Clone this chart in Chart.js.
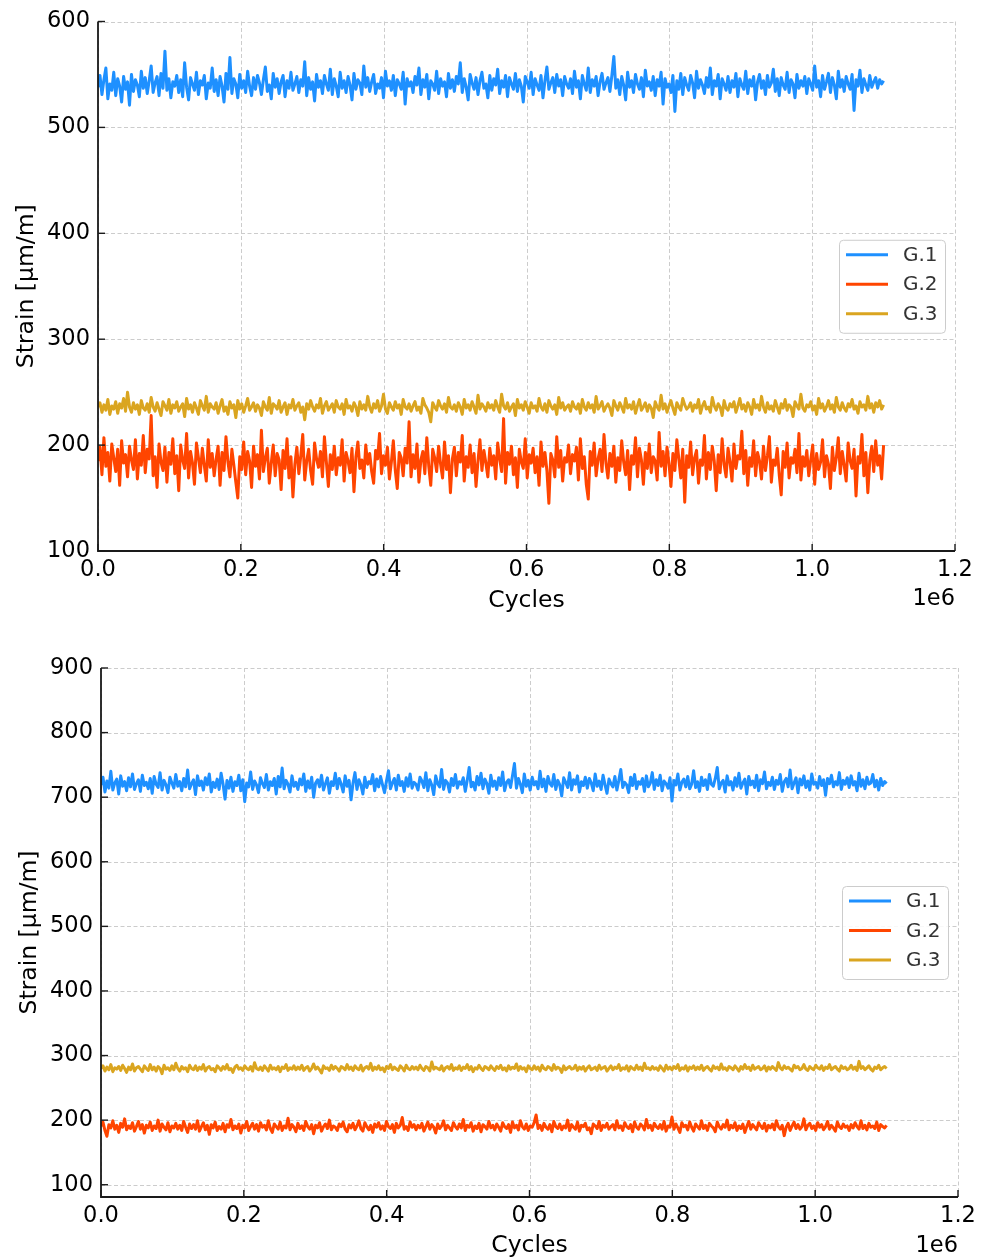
<!DOCTYPE html>
<html>
<head>
<meta charset="utf-8">
<script src="https://cdn.jsdelivr.net/npm/chart.js@4.4.1/dist/chart.umd.min.js"></script>
<style>
  body { margin: 0; background: #fff; overflow: hidden; }
  canvas { position: absolute; left: 0; }
  #topChart { top: 0; }
  #bottomChart { top: 630px; }
</style>
</head>
<body>
<canvas id="topChart" width="989" height="630"></canvas>
<canvas id="bottomChart" width="989" height="630"></canvas>
<script>
// gauges and colours
const seriesLabels = ['G.1', 'G.2', 'G.3'];
const seriesColors = ['#1E90FF', '#FF4500', '#DAA520'];

// cycle axis
const lastCycle = 1100000;
const cycleTicks = [0, 200000, 400000, 600000, 800000, 1000000, 1200000];
const topStrainTicks = [100, 200, 300, 400, 500, 600];
const bottomStrainTicks = [100, 200, 300, 400, 500, 600, 700, 800, 900];

// first test: strain readings, evenly sampled over 0 .. lastCycle
const topG1 = [
  538, 549, 531, 545, 556, 527, 541, 535, 552, 530, 546, 539, 524, 548, 536, 543, 521, 550, 534, 545,
  540, 529, 553, 537, 547, 532, 544, 558, 533, 542, 548, 530, 551, 537, 572, 535, 546, 528, 543, 539,
  549, 533, 545, 529, 561, 538, 526, 547, 541, 535, 552, 531, 544, 540, 549, 527, 542, 537, 556, 534,
  545, 530, 548, 539, 524, 551, 536, 566, 532, 546, 541, 528, 550, 537, 544, 533, 553, 539, 530, 547,
  536, 549, 542, 531, 545, 557, 534, 540, 527, 551, 538, 546, 532, 543, 549, 529, 544, 537, 552, 535,
  541, 548, 533, 545, 539, 562, 530, 547, 536, 543, 525, 550, 538, 544, 532, 549, 541, 535, 555, 531,
  546, 539, 529, 552, 537, 544, 533, 548, 540, 526, 551, 536, 545, 542, 531, 558, 538, 547, 534, 543,
  550, 532, 541, 537, 547, 528, 553, 539, 544, 535, 549, 530, 545, 541, 536, 552, 522, 546, 539, 543,
  533, 548, 540, 556, 531, 545, 538, 550, 527, 544, 541, 535, 553, 532, 546, 539, 543, 529, 551, 537,
  545, 534, 548, 541, 561, 533, 546, 538, 526, 550, 542, 536, 547, 531, 544, 552, 537, 541, 528, 549,
  535, 546, 540, 555, 532, 544, 538, 549, 529, 547, 541, 536, 551, 534, 545, 539, 524, 548, 543, 537,
  552, 531, 546, 540, 535, 549, 528, 544, 557, 536, 542, 547, 533, 550, 539, 545, 530, 548, 541, 537,
  546, 532, 553, 538, 544, 527, 549, 541, 535, 556, 533, 545, 539, 548, 530, 543, 551, 536, 542, 547,
  534, 549, 567, 537, 545, 531, 548, 540, 526, 552, 538, 544, 533, 550, 541, 536, 547, 529, 554, 539,
  543, 535, 548, 530, 545, 539, 552, 522, 546, 538, 541, 533, 549, 515, 544, 536, 551, 531, 547, 540,
  535, 549, 542, 528, 553, 537, 545, 540, 532, 547, 538, 556, 531, 544, 539, 550, 527, 546, 541, 535,
  548, 533, 544, 538, 551, 529, 546, 540, 536, 553, 532, 545, 539, 548, 526, 543, 550, 537, 544, 531,
  549, 538, 542, 555, 534, 546, 530, 547, 540, 536, 552, 533, 545, 541, 528, 550, 537, 544, 539, 548,
  532, 546, 541, 535, 558, 538, 544, 529, 549, 536, 543, 551, 533, 547, 540, 527, 553, 538, 545, 534,
  548, 541, 536, 550, 516, 545, 539, 554, 533, 546, 540, 535, 549, 538, 543, 547, 537, 545, 541, 544
];
const topG2 = [
  185, 198, 172, 207, 180, 193, 166, 201, 188, 175, 196, 162, 204, 183, 191, 170, 199, 186, 177, 205,
  168, 192, 181, 209, 174, 196, 187, 228, 171, 189, 160, 201, 184, 176, 198, 165, 193, 182, 206, 173,
  190, 157, 200, 186, 178, 211, 169, 194, 183, 163, 202, 188, 174, 197, 181, 166, 205, 179, 192, 171,
  187, 199, 162, 193, 176, 208, 184, 170, 196, 181, 165, 150, 189, 177, 203, 172, 194, 185, 160, 199,
  180, 191, 168, 214, 175, 188, 197, 164, 183, 200, 171, 192, 186, 158, 195, 178, 206, 169, 189, 151,
  182, 198, 173, 190, 210, 167, 185, 196, 176, 163, 202, 187, 179, 194, 170, 208, 184, 161, 191, 177,
  199, 172, 188, 181, 205, 166, 193, 185, 174, 197, 156, 189, 203, 178, 186, 169, 200, 182, 192, 175,
  164, 195, 187, 211, 173, 190, 181, 198, 168, 184, 204, 176, 159, 193, 188, 171, 197, 183, 222, 170,
  191, 178, 201, 165, 186, 194, 173, 207, 180, 162, 196, 188, 175, 199, 182, 169, 203, 177, 190, 155,
  187, 198, 171, 193, 184, 209, 166, 189, 179, 200, 174, 192, 161, 185, 205, 176, 195, 183, 170, 197,
  181, 190, 168, 202, 187, 175, 225, 164, 193, 182, 199, 172, 188, 160, 196, 184, 178, 206, 169, 191,
  183, 197, 174, 189, 162, 203, 180, 193, 176, 145, 192, 186, 170, 208, 179, 195, 166, 188, 184, 200,
  173, 191, 185, 198, 167, 206, 178, 189, 163, 149, 194, 181, 202, 171, 187, 196, 175, 210, 183, 169,
  192, 180, 199, 165, 188, 176, 204, 184, 172, 195, 158, 190, 182, 207, 170, 197, 186, 163, 193, 178,
  201, 174, 189, 185, 167, 212, 180, 194, 171, 198, 183, 161, 192, 176, 205, 187, 169, 196, 146, 190,
  179, 203, 172, 188, 195, 164, 186, 181, 209, 168, 193, 177, 199, 185, 157, 191, 174, 206, 182, 170,
  197, 184, 166, 201, 178, 190, 187, 213, 173, 195, 162, 188, 180, 204, 171, 193, 185, 168, 199, 176,
  190, 208, 165, 186, 181, 197, 172, 153, 194, 179, 202, 169, 188, 183, 196, 174, 211, 167, 189, 180,
  195, 171, 186, 200, 163, 192, 177, 184, 205, 170, 190, 182, 159, 198, 176, 188, 207, 173, 194, 181,
  166, 202, 185, 178, 196, 152, 189, 183, 210, 171, 193, 155, 186, 199, 175, 204, 181, 190, 168, 200
];
const topG3 = [
  236, 240, 231, 238, 233, 243, 229, 237, 234, 241, 230, 239, 235, 244, 232, 250, 236, 231, 240, 234,
  238, 229, 242, 235, 233, 239, 231, 245, 236, 232, 240, 234, 228, 241, 237, 233, 243, 230, 238, 235,
  241, 232, 236, 239, 227, 244, 234, 238, 231, 240, 235, 229, 242, 237, 233, 246, 231, 239, 236, 234,
  240, 230, 237, 243, 232, 236, 229, 241, 235, 238, 226, 242, 234, 239, 231, 237, 244, 233, 236, 240,
  232, 238, 235, 228, 241, 236, 233, 245, 230, 239, 237, 234, 242, 231, 236, 240, 229, 238, 235, 243,
  233, 237, 240, 231, 236, 224, 239, 234, 242, 236, 232, 238, 235, 244, 230, 237, 241, 233, 236, 239,
  231, 242, 236, 234, 239, 229, 243, 235, 237, 232, 240, 236, 228, 241, 234, 238, 233, 246, 236, 231,
  239, 235, 242, 232, 237, 248, 234, 230, 240, 236, 233, 241, 235, 238, 229, 243, 236, 234, 239, 232,
  237, 241, 233, 236, 230, 244, 238, 235, 231, 222, 240, 236, 233, 242, 237, 234, 239, 231, 245, 236,
  234, 238, 232, 240, 236, 229, 243, 235, 238, 233, 241, 236, 230, 247, 234, 239, 236, 232, 240, 235,
  238, 233, 242, 236, 231, 248, 237, 234, 240, 232, 236, 239, 228, 243, 235, 238, 233, 241, 236, 230,
  240, 235, 237, 232, 244, 236, 233, 239, 231, 242, 237, 234, 238, 229, 245, 235, 240, 233, 236, 238,
  232, 241, 236, 234, 239, 230, 243, 236, 233, 240, 235, 238, 231, 246, 234, 237, 241, 232, 236, 239,
  235, 228, 242, 237, 233, 240, 236, 231, 244, 235, 238, 234, 241, 230, 237, 243, 233, 236, 240, 232,
  238, 235, 226, 241, 236, 233, 247, 234, 239, 231, 237, 242, 235, 229, 240, 236, 233, 244, 238, 234,
  236, 240, 232, 238, 235, 243, 230, 237, 241, 234, 236, 231, 245, 237, 233, 239, 236, 228, 242, 235,
  233, 239, 236, 241, 231, 237, 244, 234, 238, 232, 240, 236, 229, 243, 235, 238, 233, 246, 236, 231,
  240, 234, 237, 232, 242, 236, 230, 239, 235, 243, 233, 238, 236, 227, 241, 237, 234, 248, 235, 232,
  238, 236, 241, 233, 237, 229, 244, 235, 239, 232, 236, 242, 234, 238, 231, 245, 236, 233, 240, 235,
  232, 239, 236, 243, 234, 237, 230, 241, 236, 238, 233, 246, 235, 239, 231, 240, 236, 242, 234, 238
];

// second test
const bottomG1 = [
  719, 731, 708, 725, 714, 740, 711, 722, 728, 705, 733, 717, 724, 710, 730, 716, 736, 712, 721, 727,
  709, 734, 718, 723, 713, 729, 706, 732, 720, 715, 738, 711, 726, 719, 707, 731, 722, 714, 735, 717,
  724, 710, 729, 716, 742, 713, 721, 727, 704, 733, 718, 725, 711, 730, 719, 736, 708, 723, 715, 728,
  712, 737, 720, 697, 726, 714, 731, 709, 724, 718, 734, 710, 727, 693, 722, 716, 739, 712, 725, 719,
  707, 730, 721, 715, 735, 711, 724, 718, 729, 705, 732, 716, 745, 713, 726, 720, 708, 733, 717, 723,
  712, 728, 719, 736, 709, 725, 714, 731, 700, 722, 727, 716, 734, 711, 721, 730, 706, 724, 718, 737,
  713, 729, 720, 708, 733, 717, 726, 696, 722, 738, 712, 727, 719, 705, 731, 715, 724, 721, 735, 710,
  728, 716, 732, 719, 707, 725, 741, 713, 722, 729, 711, 734, 718, 724, 709, 730, 717, 736, 714, 723,
  720, 711, 731, 725, 715, 738, 710, 727, 719, 704, 733, 721, 716, 743, 712, 726, 722, 708, 729, 718,
  735, 714, 724, 720, 730, 709, 726, 746, 716, 723, 711, 732, 719, 737, 713, 728, 721, 706, 734, 717,
  725, 712, 730, 718, 739, 710, 723, 727, 715, 733, 752, 714, 729, 720, 707, 736, 717, 726, 711, 731,
  719, 724, 713, 740, 716, 728, 709, 732, 721, 717, 735, 712, 726, 719, 702, 730, 723, 715, 738, 711,
  727, 720, 733, 708, 724, 718, 731, 714, 729, 722, 710, 736, 717, 725, 712, 734, 719, 706, 728, 721,
  716, 732, 711, 726, 743, 715, 723, 719, 707, 731, 718, 735, 713, 724, 720, 729, 709, 733, 716, 722,
  738, 712, 727, 718, 734, 710, 725, 721, 714, 730, 694, 726, 719, 736, 711, 723, 728, 716, 732, 713,
  720, 741, 715, 724, 709, 731, 718, 727, 712, 735, 720, 717, 729, 746, 713, 722, 726, 708, 733, 719,
  724, 711, 730, 717, 737, 714, 722, 728, 705, 732, 719, 725, 715, 734, 710, 727, 721, 739, 713, 723,
  718, 731, 712, 726, 720, 735, 709, 724, 729, 716, 742, 713, 722, 730, 707, 728, 719, 733, 715, 725,
  711, 736, 720, 723, 714, 732, 718, 727, 703, 729, 721, 734, 716, 724, 719, 738, 712, 726, 720, 730,
  715, 733, 719, 724, 710, 737, 717, 727, 713, 731, 720, 722, 735, 716, 726, 711, 729, 718, 724, 721
];
const bottomG2 = [
  191, 197, 184, 175, 193, 188, 199, 186, 192, 181, 195, 189, 202, 185, 191, 187, 196, 183, 190, 198,
  186, 193, 180, 192, 188, 197, 184, 191, 187, 200, 183, 194, 189, 185, 196, 182, 191, 188, 195, 186,
  192, 184, 198, 189, 181, 194, 187, 193, 186, 199, 183, 190, 196, 185, 192, 178, 193, 188, 197, 184,
  190, 186, 195, 182, 193, 189, 201, 185, 191, 187, 194, 180, 192, 188, 198, 184, 190, 195, 186, 193,
  183, 196, 189, 192, 185, 199, 187, 181, 194, 190, 186, 197, 184, 191, 188, 203, 185, 193, 189, 182,
  195, 187, 191, 184, 198, 190, 186, 193, 179, 192, 188, 196, 183, 190, 194, 187, 200, 185, 191, 189,
  184, 194, 190, 197, 186, 182, 193, 188, 195, 185, 191, 199, 187, 183, 196, 190, 185, 192, 181, 194,
  189, 196, 186, 191, 184, 198, 190, 187, 193, 181, 195, 188, 192, 204, 186, 190, 184, 197, 189, 193,
  185, 192, 188, 195, 183, 190, 197, 186, 193, 189, 180, 194, 187, 191, 199, 185, 192, 188, 184, 196,
  190, 186, 194, 188, 201, 184, 192, 189, 196, 183, 191, 187, 195, 182, 193, 190, 186, 198, 188, 192,
  185, 194, 189, 183, 196, 190, 187, 193, 181, 197, 188, 192, 185, 199, 190, 186, 194, 184, 191, 189,
  196, 208, 187, 192, 184, 195, 189, 186, 193, 182, 198, 190, 187, 194, 185, 191, 188, 200, 184, 193,
  189, 186, 197, 183, 192, 190, 195, 185, 188, 179, 194, 191, 187, 198, 184, 192, 189, 195, 186, 190,
  193, 185, 199, 188, 191, 184, 196, 190, 187, 193, 182, 197, 189, 186, 194, 191, 185, 201, 188, 192,
  184, 195, 190, 187, 193, 186, 198, 183, 191, 189, 205, 186, 194, 188, 181, 196, 190, 192, 185, 197,
  189, 183, 194, 190, 186, 199, 187, 192, 184, 195, 191, 188, 182, 197, 190, 186, 193, 189, 200, 185,
  192, 188, 196, 184, 191, 187, 194, 181, 190, 198, 186, 193, 189, 185, 196, 191, 187, 195, 183, 192,
  188, 194, 185, 199, 190, 186, 192, 176, 189, 195, 184, 191, 197, 187, 193, 186, 190, 202, 185, 192,
  195, 187, 191, 184, 196, 189, 193, 185, 190, 198, 186, 192, 188, 183, 197, 190, 187, 194, 189, 191,
  184, 193, 188, 196, 190, 186, 199, 187, 192, 185, 195, 189, 191, 187, 197, 184, 193, 190, 188, 192
];
const bottomG3 = [
  280, 284, 276, 282, 278, 286, 275, 281, 279, 283, 277, 285, 280, 274, 282, 278, 287, 276, 281, 283,
  279, 275, 284, 280, 277, 286, 278, 282, 276, 283, 280, 272, 285, 279, 281, 277, 284, 278, 288, 280,
  276, 283, 279, 281, 275, 285, 280, 278, 284, 277, 282, 279, 286, 276, 281, 283, 278, 280, 275, 284,
  281, 277, 283, 279, 286, 278, 280, 274, 282, 285, 279, 281, 277, 284, 280, 278, 283, 276, 289, 280,
  278, 282, 277, 284, 280, 276, 285, 279, 281, 278, 283, 275, 282, 280, 286, 277, 281, 279, 284, 278,
  282, 279, 285, 277, 281, 283, 276, 280, 287, 279, 282, 278, 273, 284, 280, 281, 277, 285, 279, 283,
  280, 276, 283, 281, 278, 286, 279, 282, 277, 284, 280, 278, 285, 276, 281, 283, 279, 288, 277, 282,
  279, 284, 278, 281, 275, 283, 280, 286, 278, 282, 279, 277, 284, 281, 276, 285, 280, 278, 283, 279,
  282, 278, 285, 280, 277, 283, 281, 276, 290, 279, 282, 280, 278, 284, 276, 281, 283, 279, 286, 277,
  281, 279, 284, 277, 282, 280, 286, 278, 283, 275, 281, 279, 285, 280, 277, 283, 281, 278, 284, 280,
  277, 283, 280, 285, 278, 281, 276, 284, 279, 282, 280, 287, 277, 283, 279, 281, 275, 284, 280, 278,
  284, 279, 282, 276, 285, 280, 278, 283, 281, 277, 286, 279, 282, 280, 274, 284, 278, 281, 283, 279,
  280, 285, 277, 282, 279, 283, 276, 281, 284, 278, 280, 282, 277, 285, 279, 281, 283, 276, 280, 284,
  278, 282, 280, 286, 277, 281, 279, 284, 276, 283, 280, 278, 285, 279, 282, 277, 288, 280, 281, 278,
  283, 279, 281, 277, 284, 280, 276, 285, 279, 282, 278, 283, 280, 286, 277, 281, 279, 284, 276, 282,
  280, 284, 278, 282, 279, 285, 277, 281, 283, 279, 276, 284, 280, 282, 278, 287, 279, 281, 277, 283,
  281, 278, 284, 280, 276, 283, 279, 286, 280, 282, 277, 285, 279, 281, 283, 278, 280, 284, 276, 282,
  279, 283, 280, 277, 289, 281, 278, 284, 280, 282, 279, 276, 285, 281, 283, 278, 280, 286, 279, 277,
  283, 280, 278, 285, 281, 279, 284, 277, 282, 280, 286, 278, 281, 283, 279, 276, 284, 280, 282, 278,
  280, 285, 279, 282, 277, 291, 280, 283, 278, 281, 284, 279, 276, 282, 280, 285, 278, 281, 283, 280
];

const FONT = 'DejaVu Sans';

// pair each reading with its cycle count
function toPoints(values) {
  const step = lastCycle / (values.length - 1);
  return values.map((v, i) => ({ x: i * step, y: v }));
}

function makeDatasets(lists) {
  return lists.map((values, i) => ({
    label: seriesLabels[i],
    data: toPoints(values),
    borderColor: seriesColors[i],
    borderWidth: 3,
    borderJoinStyle: 'round',
    pointRadius: 0,
    tension: 0,
    order: 2 - i
  }));
}

// dashed grid, spines, inward ticks, legend box and the 1e6 offset text
const frame = {
  id: 'frame',
  beforeDatasetsDraw(chart) {
    const { ctx, chartArea: a, scales: { x, y } } = chart;
    ctx.save();
    ctx.strokeStyle = '#cccccc';
    ctx.lineWidth = 1;
    ctx.setLineDash([4, 2.5]);
    x.ticks.forEach(t => {
      const px = Math.round(x.getPixelForValue(t.value)) + 0.5;
      ctx.beginPath(); ctx.moveTo(px, a.top); ctx.lineTo(px, a.bottom); ctx.stroke();
    });
    y.ticks.forEach(t => {
      const py = Math.round(y.getPixelForValue(t.value)) + 0.5;
      ctx.beginPath(); ctx.moveTo(a.left, py); ctx.lineTo(a.right, py); ctx.stroke();
    });
    ctx.restore();
  },
  afterDraw(chart, args, opts) {
    const { ctx, chartArea: a, scales: { x, y } } = chart;
    ctx.save();
    // spines
    ctx.strokeStyle = '#1a1a1a';
    ctx.lineWidth = 1.8;
    ctx.beginPath();
    ctx.moveTo(a.left, a.top); ctx.lineTo(a.left, a.bottom); ctx.lineTo(a.right, a.bottom);
    ctx.stroke();
    // tick marks pointing inside
    ctx.lineWidth = 1.4;
    x.ticks.forEach(t => {
      const px = x.getPixelForValue(t.value);
      ctx.beginPath(); ctx.moveTo(px, a.bottom); ctx.lineTo(px, a.bottom - 7); ctx.stroke();
    });
    y.ticks.forEach(t => {
      const py = y.getPixelForValue(t.value);
      ctx.beginPath(); ctx.moveTo(a.left, py); ctx.lineTo(a.left + 7, py); ctx.stroke();
    });
    // offset text
    ctx.fillStyle = '#000';
    ctx.font = '22.5px "' + FONT + '"';
    ctx.textAlign = 'right';
    ctx.textBaseline = 'middle';
    ctx.fillText('1e6', a.right, opts.offsetY);

    // legend, centre right
    const w = 106, h = 93;
    const left = a.right - 10 - w;
    const top = (a.top + a.bottom) / 2 - h / 2;
    ctx.fillStyle = 'rgba(255,255,255,0.85)';
    ctx.strokeStyle = '#cccccc';
    ctx.lineWidth = 1;
    ctx.beginPath();
    ctx.roundRect(left + 0.5, top + 0.5, w, h, 4);
    ctx.fill(); ctx.stroke();
    ctx.font = '20px "' + FONT + '"';
    ctx.textAlign = 'left';
    chart.data.datasets.forEach((ds, i) => {
      const ry = top + 15 + i * 29.5;
      ctx.strokeStyle = ds.borderColor;
      ctx.lineWidth = 3;
      ctx.beginPath(); ctx.moveTo(left + 7, ry); ctx.lineTo(left + 49, ry); ctx.stroke();
      ctx.fillStyle = '#333';
      ctx.fillText(ds.label, left + 64, ry + 1);
    });
    ctx.restore();
  }
};

function makeOptions(yMin, yMax, yTicks, lay) {
  const tickFont = { family: FONT, size: 22.5 };
  const titleFont = { family: FONT, size: 23.5 };
  return {
    responsive: false,
    animation: false,
    devicePixelRatio: 1,
    layout: { padding: { left: 0, right: lay.right, top: lay.top, bottom: 0 } },
    plugins: {
      legend: { display: false },
      tooltip: { enabled: false },
      frame: { offsetY: lay.offsetY }
    },
    scales: {
      x: {
        type: 'linear',
        min: 0,
        max: 1200000,
        afterBuildTicks: s => { s.ticks = cycleTicks.map(v => ({ value: v })); },
        afterFit: s => { s.height = lay.xHeight; },
        grid: { display: false, drawTicks: false },
        border: { display: false },
        ticks: {
          autoSkip: false, maxRotation: 0, padding: 6, color: '#000', font: tickFont,
          callback: v => (v / 1e6).toFixed(1)
        },
        title: {
          display: true, text: 'Cycles', color: '#000', font: titleFont,
          padding: { top: 0, bottom: lay.xTitle }
        }
      },
      y: {
        type: 'linear',
        min: yMin,
        max: yMax,
        afterBuildTicks: s => { s.ticks = yTicks.map(v => ({ value: v })); },
        afterFit: s => { s.width = lay.yWidth; },
        grid: { display: false, drawTicks: false },
        border: { display: false },
        ticks: { padding: 8, color: '#000', font: tickFont },
        title: {
          display: true, text: 'Strain [µm/m]', color: '#000', font: titleFont,
          padding: { top: lay.yTitle, bottom: 0 }
        }
      }
    }
  };
}

new Chart(document.getElementById('topChart'), {
  type: 'line',
  data: { datasets: makeDatasets([topG1, topG2, topG3]) },
  options: makeOptions(100, 600, topStrainTicks, {
    top: 21, right: 34, xHeight: 79, yWidth: 98, xTitle: 14.9, yTitle: 12.9, offsetY: 599
  }),
  plugins: [frame]
});

new Chart(document.getElementById('bottomChart'), {
  type: 'line',
  data: { datasets: makeDatasets([bottomG1, bottomG2, bottomG3]) },
  options: makeOptions(81, 900, bottomStrainTicks, {
    top: 38, right: 31, xHeight: 63, yWidth: 101, xTitle: 0, yTitle: 15.9, offsetY: 616
  }),
  plugins: [frame]
});
</script>
</body>
</html>
